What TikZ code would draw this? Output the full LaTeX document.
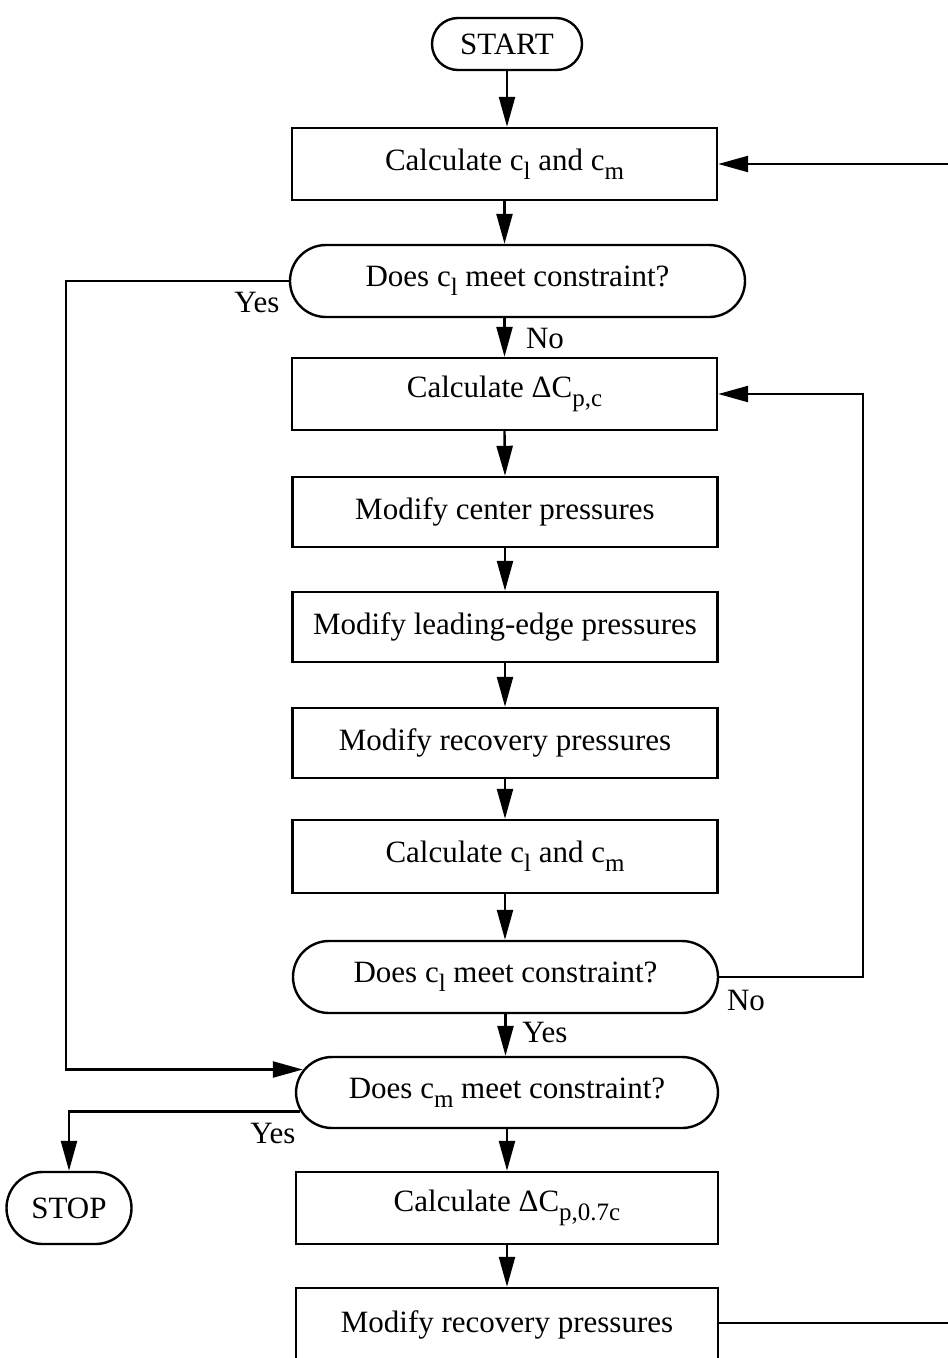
\documentclass[tikz,border=0pt]{standalone}
\usepackage{fontspec}
\setmainfont{Liberation Serif}
\usetikzlibrary{arrows.meta,calc}
\newcommand{\lsub}[1]{\raisebox{-9pt}{\fontsize{25}{25}\selectfont #1}}
\begin{document}
\begin{tikzpicture}[x=1pt,y=-1pt,line width=2.4pt,
  txt/.style={font=\fontsize{31}{36}\selectfont},
  proc/.style={txt,draw,rectangle,inner sep=0pt,minimum width=425pt,minimum height=72pt},
  term/.style={txt,draw,rectangle,rounded corners=36pt,inner sep=0pt,minimum height=72pt},
  arr/.style={-{Triangle[length=30pt,width=16pt]}},
  lbl/.style={txt,inner sep=0pt}]
\clip (0,0) rectangle (948,1358);
\node[term,rounded corners=26pt,minimum width=150pt,minimum height=52pt] (start) at (507,44) {START};
\node[proc] (b1) at (504.5,164) {Calculate c\lsub{l} and c\lsub{m}};
\node[term,minimum width=455pt] (d1) at (517.5,281) {Does c\lsub{l} meet constraint?};
\node[proc] (b2) at (504.5,394) {Calculate ΔC\lsub{p,c}};
\node[proc,minimum height=70pt] (b3) at (505,512) {Modify center pressures};
\node[proc,minimum height=70pt] (b4) at (505,627) {Modify leading-edge pressures};
\node[proc,minimum height=70pt] (b5) at (505,743) {Modify recovery pressures};
\node[proc,minimum height=73pt] (b6) at (505,856.5) {Calculate c\lsub{l} and c\lsub{m}};
\node[term,minimum width=425pt] (d2) at (505.5,977) {Does c\lsub{l} meet constraint?};
\node[term,minimum width=422pt,minimum height=71pt] (d3) at (507,1092.5) {Does c\lsub{m} meet constraint?};
\node[term,minimum width=125pt] (stop) at (69,1208) {STOP};
\node[proc,minimum width=422pt] (b7) at (507,1208) {Calculate ΔC\lsub{p,0.7c}};
\node[proc,minimum width=422pt,minimum height=74pt] (b8) at (507,1325) {Modify recovery pressures};
\coordinate (e1) at (948,164);
\coordinate (e8) at (948,1323);
\draw[arr] (start.south) -- (start.south |- b1.north);
\draw[arr] (b1.south) -- (b1.south |- d1.north);
\draw[arr] (b2.north |- d1.south) -- (b2.north);
\draw[arr] (b2.south) -- (b3.north);
\draw[arr] (b3.south) -- (b4.north);
\draw[arr] (b4.south) -- (b5.north);
\draw[arr] (b5.south) -- (b6.north);
\draw[arr] (b6.south) -- (b6.south |- d2.north);
\draw[arr] (d2.south) -- (d2.south |- d3.north);
\draw[arr] (d3.south) -- (b7.north);
\draw[arr] (b7.south) -- (b8.north);
\draw[arr] (e1) -- (b1.east);
\draw (b8.east |- e8) -- (e8);
\draw[arr] (d2.east) -- ++(144,0) |- (b2.east);
\draw[arr] (d1.west) -| ($(d3.west)+(-229,-23)$) -- ($(d3.west)+(8,-23)$);
\draw[arr] ($(d3.west)+(5,19)$) -| (stop.north);
\node[lbl] (y1) at (257,302) {Yes};
\node[lbl] (n1) at (545,338) {No};
\node[lbl] (n2) at (746,1000) {No};
\node[lbl] (y2) at (545,1032) {Yes};
\node[lbl] (y3) at (273,1133) {Yes};
\end{tikzpicture}
\end{document}
